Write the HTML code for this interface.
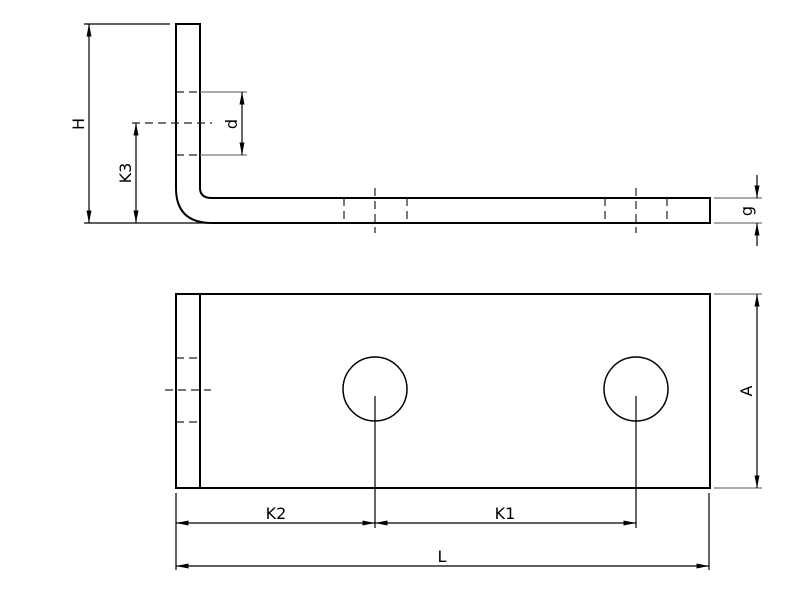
<!DOCTYPE html>
<html><head><meta charset="utf-8"><style>
html,body{margin:0;padding:0;background:#fff;width:800px;height:600px;overflow:hidden}
svg text{font-family:"DejaVu Sans","Liberation Sans",sans-serif;font-size:16px;fill:#000}
</style></head><body>
<svg width="800" height="600" viewBox="0 0 800 600" xmlns="http://www.w3.org/2000/svg">
<defs>
<marker id="a" viewBox="0 0 10 4" refX="10" refY="2" markerWidth="14" markerHeight="5" markerUnits="userSpaceOnUse" orient="auto-start-reverse"><path d="M0,0 L10,2 L0,4 Z" fill="#000"/></marker>
</defs>
<g fill="none" stroke="#000" stroke-width="2">
<path d="M176,24 L200,24 L200,188 Q200,198 212,198 L710,198 L710,223 L212,223 Q176,223 176,188 Z"/>
<rect x="176" y="294" width="534" height="194"/>
<line x1="200" y1="294" x2="200" y2="488"/>
<circle cx="375" cy="389" r="32" stroke-width="1.5"/>
<circle cx="636" cy="389" r="32" stroke-width="1.5"/>
</g>
<g stroke="#000" stroke-width="1.2" fill="none">
<g stroke-dasharray="8,5" stroke="#222">
<line x1="176" y1="92" x2="200" y2="92"/>
<line x1="176" y1="155" x2="200" y2="155"/>
<line x1="132" y1="123" x2="212" y2="123"/>
<line x1="344" y1="198" x2="344" y2="223"/>
<line x1="407" y1="198" x2="407" y2="223"/>
<line x1="375" y1="188" x2="375" y2="233"/>
<line x1="605" y1="198" x2="605" y2="223"/>
<line x1="667" y1="198" x2="667" y2="223"/>
<line x1="636" y1="188" x2="636" y2="233"/>
<line x1="176" y1="358" x2="200" y2="358"/>
<line x1="176" y1="422" x2="200" y2="422"/>
<line x1="165" y1="390" x2="211" y2="390"/>
</g>
<line x1="84" y1="24" x2="170" y2="24"/>
<line x1="84" y1="223" x2="210" y2="223"/>
<line x1="200" y1="92" x2="247" y2="92" stroke="#777"/>
<line x1="200" y1="155" x2="247" y2="155" stroke="#777"/>
<line x1="714" y1="198" x2="762" y2="198" stroke="#777"/>
<line x1="714" y1="223" x2="762" y2="223" stroke="#777"/>
<line x1="714" y1="294" x2="762" y2="294" stroke="#777"/>
<line x1="714" y1="488" x2="762" y2="488" stroke="#777"/>
<line x1="375" y1="396" x2="375" y2="528"/>
<line x1="636" y1="396" x2="636" y2="528"/>
<line x1="176" y1="493" x2="176" y2="570"/>
<line x1="709" y1="493" x2="709" y2="570"/>
<line x1="89" y1="24" x2="89" y2="223" marker-start="url(#a)" marker-end="url(#a)"/>
<line x1="136" y1="123" x2="136" y2="223" marker-start="url(#a)" marker-end="url(#a)"/>
<line x1="242" y1="92" x2="242" y2="155" marker-start="url(#a)" marker-end="url(#a)"/>
<line x1="757" y1="175" x2="757" y2="198" marker-end="url(#a)"/>
<line x1="757" y1="246" x2="757" y2="223" marker-end="url(#a)"/>
<line x1="757" y1="294" x2="757" y2="488" marker-start="url(#a)" marker-end="url(#a)"/>
<line x1="176" y1="523" x2="375" y2="523" marker-start="url(#a)" marker-end="url(#a)"/>
<line x1="375" y1="523" x2="636" y2="523" marker-start="url(#a)" marker-end="url(#a)"/>
<line x1="176" y1="566" x2="709" y2="566" marker-start="url(#a)" marker-end="url(#a)"/>
</g>
<text transform="translate(84,124) rotate(-90)" text-anchor="middle">H</text>
<text transform="translate(131,173) rotate(-90)" text-anchor="middle">K3</text>
<text transform="translate(237,124) rotate(-90)" text-anchor="middle">d</text>
<text transform="translate(752,211) rotate(-90)" text-anchor="middle">g</text>
<text transform="translate(752,391) rotate(-90)" text-anchor="middle">A</text>
<text x="276" y="519" text-anchor="middle">K2</text>
<text x="505" y="519" text-anchor="middle">K1</text>
<text x="442" y="562" text-anchor="middle">L</text>
</svg>
</body></html>
